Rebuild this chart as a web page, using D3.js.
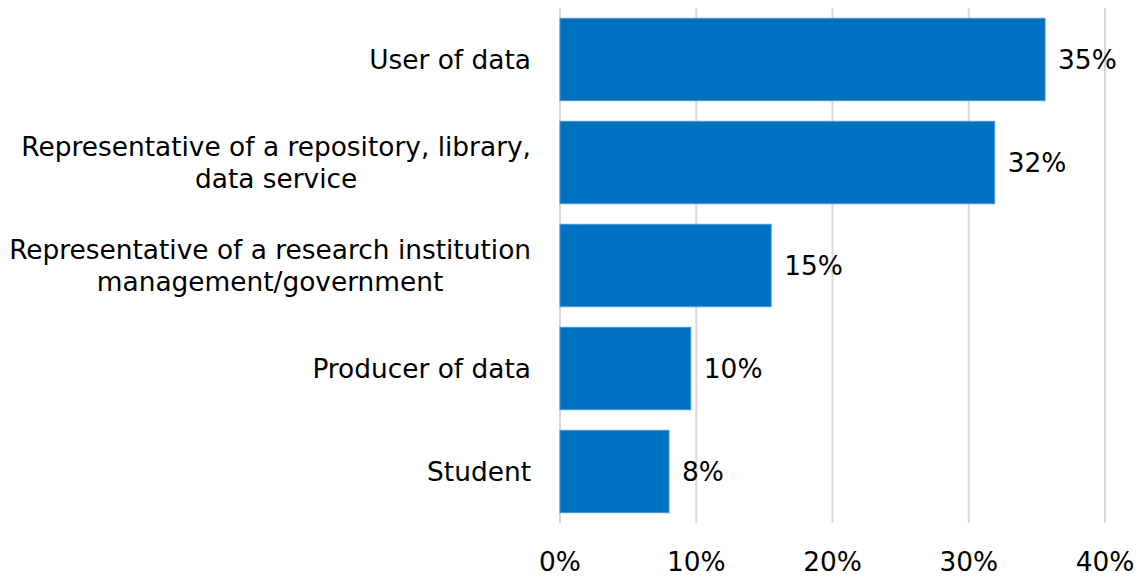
<!DOCTYPE html>
<html>
<head>
<meta charset="utf-8">
<script src="https://cdn.jsdelivr.net/npm/d3@7"></script>
<style>
  body { margin: 0; background: #fff; }
  text { font-family: "DejaVu Sans", Verdana, sans-serif; fill: #000; }
</style>
</head>
<body>
<script>
// chart data
const categories = [
  ['User of data'],
  ['Representative of a repository, library,', 'data service'],
  ['Representative of a research institution', 'management/government'],
  ['Producer of data'],
  ['Student']
];
const values = [35.6, 31.9, 15.5, 9.6, 8.0];
const valueLabels = ['35%', '32%', '15%', '10%', '8%'];
const ticks = [0, 10, 20, 30, 40];

const width = 1142;
const height = 578;
const margin = { top: 8, right: 37, bottom: 55, left: 560 };
const fontSize = 26.4;

const svg = d3.select('body')
  .append('svg')
  .attr('width', width)
  .attr('height', height);

const x = d3.scaleLinear()
  .domain([0, 40])
  .range([margin.left, width - margin.right]);

const y = d3.scaleBand()
  .domain(d3.range(categories.length))
  .range([margin.top, height - margin.bottom])
  .paddingInner(0.2)
  .paddingOuter(0.1);

// gridlines
svg.append('g')
  .selectAll('line')
  .data(ticks)
  .join('line')
  .attr('x1', d => x(d))
  .attr('x2', d => x(d))
  .attr('y1', margin.top)
  .attr('y2', height - margin.bottom)
  .attr('stroke', '#d9d9d9')
  .attr('stroke-width', 2);

// bars
svg.append('g')
  .selectAll('rect')
  .data(values)
  .join('rect')
  .attr('x', x(0))
  .attr('y', (d, i) => y(i))
  .attr('width', d => x(d) - x(0))
  .attr('height', y.bandwidth())
  .attr('fill', '#0070c0')
  .attr('stroke', '#4a98d6')
  .attr('stroke-width', 1);

// value labels
svg.append('g')
  .selectAll('text')
  .data(values)
  .join('text')
  .attr('x', d => x(d) + 13)
  .attr('y', (d, i) => y(i) + y.bandwidth() / 2)
  .attr('dy', '0.35em')
  .attr('font-size', fontSize)
  .text((d, i) => valueLabels[i]);

// category labels: block right aligned, wrapped lines centred
const labelRight = 531;
const lineH = 32;
const catG = svg.append('g');
categories.forEach((lines, i) => {
  const cy = y(i) + y.bandwidth() / 2;
  const g = catG.append('g');
  const txt = g.selectAll('text')
    .data(lines)
    .join('text')
    .attr('font-size', fontSize)
    .attr('text-anchor', 'middle')
    .attr('y', (d, j) => cy + (j - (lines.length - 1) / 2) * lineH)
    .attr('dy', '0.35em')
    .text(d => d);
  const maxW = d3.max(txt.nodes(), n => n.getComputedTextLength());
  txt.attr('x', labelRight - maxW / 2);
});

// x axis tick labels
svg.append('g')
  .selectAll('text')
  .data(ticks)
  .join('text')
  .attr('x', d => x(d))
  .attr('y', 562)
  .attr('dy', '0.35em')
  .attr('text-anchor', 'middle')
  .attr('font-size', fontSize)
  .text(d => d + '%');
</script>
</body>
</html>
